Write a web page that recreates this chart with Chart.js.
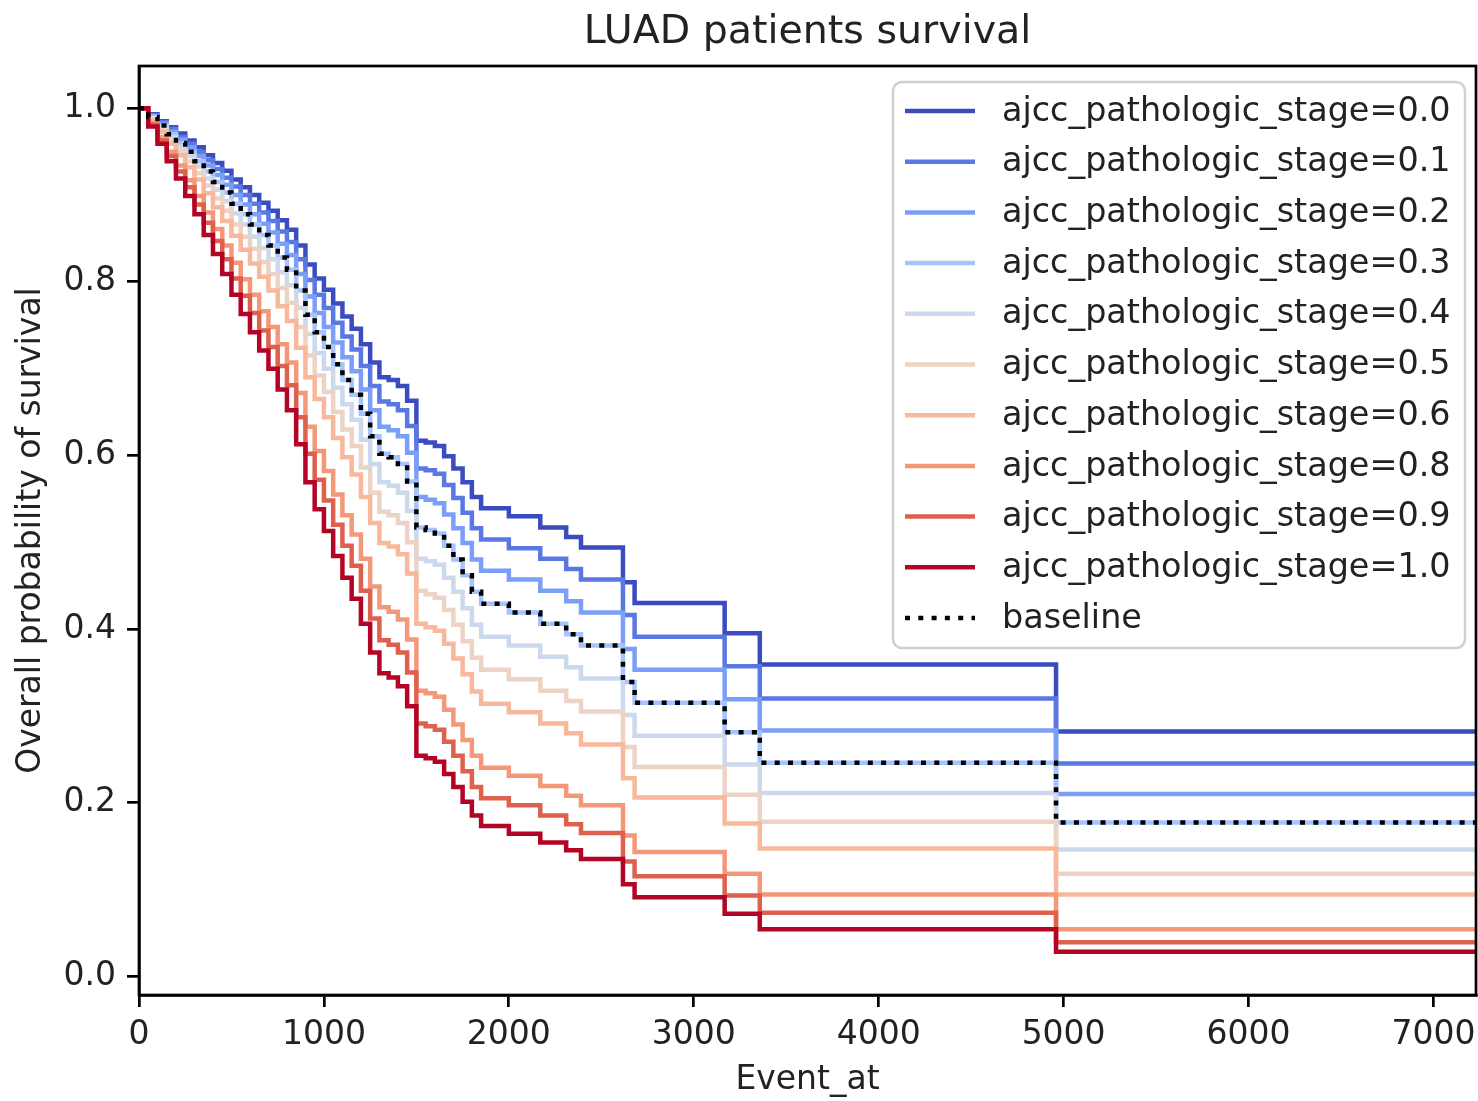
<!DOCTYPE html>
<html>
<head>
<meta charset="utf-8">
<title>LUAD patients survival</title>
<script src="https://cdn.jsdelivr.net/npm/chart.js@4.4.1/dist/chart.umd.min.js"></script>
<style>
  html, body { margin: 0; padding: 0; background: #fff; }
  canvas { display: block; }
</style>
</head>
<body>
<canvas id="survivalChart" width="1478" height="1101"></canvas>
<script>
// step times (days) shared by all curves
var times = [0, 50, 100, 150, 200, 250, 300, 350, 400, 450, 500, 550, 600, 650, 700, 750, 800, 850, 900, 950,
    1000, 1050, 1100, 1150, 1200, 1250, 1300, 1350, 1400, 1450, 1500, 1550, 1600, 1650, 1700, 1750, 1800, 1850,
    2000, 2170, 2310, 2390, 2617, 2680, 3167, 3357, 4959, 7230];

var stage00 = [1, 0.993, 0.985, 0.978, 0.971, 0.963, 0.955, 0.946, 0.937, 0.928, 0.918, 0.909, 0.900, 0.891, 0.882, 0.871, 0.860, 0.842, 0.820, 0.804,
    0.791, 0.775, 0.760, 0.746, 0.728, 0.707, 0.690, 0.687, 0.680, 0.663, 0.617, 0.615, 0.611, 0.599, 0.585, 0.569, 0.552, 0.539,
    0.530, 0.517, 0.506, 0.494, 0.454, 0.430, 0.395, 0.359, 0.282, 0.282];
var stage01 = [1, 0.992, 0.984, 0.976, 0.967, 0.959, 0.950, 0.940, 0.930, 0.920, 0.910, 0.900, 0.890, 0.880, 0.870, 0.858, 0.846, 0.826, 0.802, 0.785,
    0.770, 0.753, 0.737, 0.722, 0.703, 0.680, 0.662, 0.659, 0.652, 0.634, 0.585, 0.583, 0.579, 0.566, 0.551, 0.534, 0.516, 0.503,
    0.493, 0.481, 0.469, 0.457, 0.416, 0.391, 0.357, 0.320, 0.245, 0.245];
var stage02 = [1, 0.991, 0.982, 0.973, 0.964, 0.955, 0.945, 0.934, 0.923, 0.912, 0.900, 0.889, 0.878, 0.867, 0.857, 0.844, 0.831, 0.809, 0.783, 0.764,
    0.748, 0.730, 0.713, 0.697, 0.676, 0.652, 0.633, 0.629, 0.622, 0.603, 0.552, 0.549, 0.545, 0.532, 0.516, 0.499, 0.480, 0.467,
    0.457, 0.444, 0.432, 0.419, 0.377, 0.353, 0.319, 0.283, 0.210, 0.210];
var stage03 = [1, 0.990, 0.980, 0.970, 0.960, 0.950, 0.939, 0.927, 0.915, 0.903, 0.890, 0.878, 0.866, 0.854, 0.842, 0.828, 0.814, 0.790, 0.762, 0.742,
    0.725, 0.705, 0.687, 0.670, 0.648, 0.622, 0.602, 0.598, 0.590, 0.570, 0.517, 0.514, 0.510, 0.496, 0.480, 0.462, 0.443, 0.429,
    0.419, 0.406, 0.394, 0.381, 0.339, 0.315, 0.281, 0.246, 0.177, 0.177];
var stage04 = [1, 0.989, 0.978, 0.967, 0.956, 0.945, 0.933, 0.919, 0.906, 0.893, 0.879, 0.866, 0.852, 0.839, 0.826, 0.811, 0.796, 0.770, 0.740, 0.718,
    0.700, 0.678, 0.659, 0.641, 0.618, 0.590, 0.569, 0.565, 0.557, 0.536, 0.481, 0.478, 0.474, 0.459, 0.443, 0.424, 0.405, 0.391,
    0.381, 0.368, 0.356, 0.343, 0.301, 0.277, 0.244, 0.211, 0.146, 0.146];
var stage05 = [1, 0.988, 0.975, 0.963, 0.951, 0.939, 0.925, 0.911, 0.896, 0.882, 0.866, 0.852, 0.838, 0.823, 0.809, 0.793, 0.776, 0.748, 0.715, 0.692,
    0.673, 0.650, 0.630, 0.611, 0.586, 0.557, 0.535, 0.531, 0.522, 0.500, 0.444, 0.440, 0.436, 0.422, 0.405, 0.386, 0.367, 0.353,
    0.342, 0.329, 0.317, 0.305, 0.264, 0.241, 0.209, 0.178, 0.118, 0.118];
var stage06 = [1, 0.986, 0.973, 0.959, 0.946, 0.932, 0.918, 0.902, 0.886, 0.870, 0.853, 0.837, 0.821, 0.806, 0.790, 0.772, 0.755, 0.724, 0.690, 0.665,
    0.644, 0.620, 0.598, 0.578, 0.552, 0.522, 0.499, 0.495, 0.486, 0.464, 0.406, 0.402, 0.398, 0.383, 0.366, 0.348, 0.328, 0.314,
    0.304, 0.291, 0.280, 0.267, 0.228, 0.206, 0.176, 0.147, 0.094, 0.094];
var stage08 = [1, 0.983, 0.967, 0.950, 0.934, 0.917, 0.899, 0.880, 0.861, 0.842, 0.822, 0.803, 0.785, 0.766, 0.748, 0.728, 0.707, 0.672, 0.633, 0.605,
    0.582, 0.555, 0.531, 0.509, 0.481, 0.449, 0.425, 0.420, 0.411, 0.388, 0.329, 0.326, 0.322, 0.307, 0.290, 0.272, 0.254, 0.240,
    0.231, 0.219, 0.208, 0.197, 0.162, 0.143, 0.118, 0.094, 0.054, 0.054];
var stage09 = [1, 0.981, 0.963, 0.945, 0.927, 0.909, 0.889, 0.868, 0.847, 0.826, 0.804, 0.784, 0.764, 0.744, 0.725, 0.703, 0.681, 0.644, 0.602, 0.572,
    0.548, 0.520, 0.496, 0.473, 0.444, 0.412, 0.387, 0.382, 0.373, 0.350, 0.291, 0.288, 0.284, 0.270, 0.254, 0.236, 0.218, 0.205,
    0.197, 0.185, 0.175, 0.165, 0.132, 0.115, 0.093, 0.073, 0.039, 0.039];
var stage10 = [1, 0.979, 0.959, 0.939, 0.919, 0.899, 0.878, 0.854, 0.832, 0.809, 0.785, 0.763, 0.742, 0.721, 0.700, 0.676, 0.652, 0.613, 0.569, 0.538,
    0.513, 0.484, 0.459, 0.435, 0.406, 0.373, 0.349, 0.344, 0.334, 0.311, 0.254, 0.251, 0.247, 0.233, 0.218, 0.201, 0.185, 0.173,
    0.164, 0.154, 0.145, 0.135, 0.106, 0.091, 0.072, 0.054, 0.028, 0.028];
var baseline = [1, 0.990, 0.980, 0.970, 0.960, 0.950, 0.939, 0.927, 0.915, 0.903, 0.890, 0.878, 0.866, 0.854, 0.842, 0.828, 0.814, 0.790, 0.762, 0.742,
    0.725, 0.705, 0.687, 0.670, 0.648, 0.622, 0.602, 0.598, 0.590, 0.570, 0.517, 0.514, 0.510, 0.496, 0.480, 0.462, 0.443, 0.429,
    0.419, 0.406, 0.394, 0.381, 0.339, 0.315, 0.281, 0.246, 0.177, 0.177];

var stageLabels = ['0.0', '0.1', '0.2', '0.3', '0.4', '0.5', '0.6', '0.8', '0.9', '1.0'];
var stageSeries = [stage00, stage01, stage02, stage03, stage04, stage05, stage06, stage08, stage09, stage10];
var stageColors = ['#3b4cc0', '#5a78e4', '#7b9ff9', '#a5c3fe', '#ccd9ed', '#ecd3c5', '#f7b89c', '#f4987a', '#de614d', '#b40426'];

var xTicks = [0, 1000, 2000, 3000, 4000, 5000, 6000, 7000];
var yTicks = [0, 0.2, 0.4, 0.6, 0.8, 1.0];

var textColor = '#222222';

function points(values) {
    return times.map(function(t, i) { return { x: t, y: values[i] }; });
}

var datasets = stageSeries.map(function(values, i) {
    return {
        label: 'ajcc_pathologic_stage=' + stageLabels[i],
        data: points(values),
        borderColor: stageColors[i],
        borderWidth: 4.5,
        stepped: 'before',
        pointRadius: 0,
        fill: false,
        order: stageSeries.length - i
    };
});
datasets.push({
    label: 'baseline',
    data: points(baseline),
    borderColor: '#000000',
    borderWidth: 4.5,
    borderDash: [5, 8.3],
    borderCapStyle: 'butt',
    stepped: 'before',
    pointRadius: 0,
    fill: false,
    order: 0
});

// black box round the plot area
var framePlugin = {
    id: 'frame',
    afterDatasetsDraw: function(chart) {
        var a = chart.chartArea, ctx = chart.ctx;
        ctx.save();
        ctx.strokeStyle = '#000';
        ctx.lineWidth = 2.7;
        ctx.strokeRect(a.left, a.top, a.right - a.left, a.bottom - a.top);
        ctx.restore();
    }
};

// matplotlib style legend in the upper right corner of the plot
var legendPlugin = {
    id: 'boxLegend',
    afterDraw: function(chart) {
        var a = chart.chartArea, ctx = chart.ctx;
        var w = 572, h = 566, rowH = 50.7;
        var x0 = a.right - 11 - w, y0 = a.top + 16;
        ctx.save();
        ctx.beginPath();
        if (ctx.roundRect) {
            ctx.roundRect(x0, y0, w, h, 9);
        } else {
            ctx.rect(x0, y0, w, h);
        }
        ctx.fillStyle = 'rgba(255,255,255,0.8)';
        ctx.fill();
        ctx.strokeStyle = '#d0d0d0';
        ctx.lineWidth = 2.5;
        ctx.stroke();

        ctx.font = '33.4px "DejaVu Sans", sans-serif';
        ctx.textBaseline = 'middle';
        ctx.textAlign = 'left';
        chart.data.datasets.forEach(function(ds, i) {
            var cy = y0 + 29 + i * rowH;
            ctx.beginPath();
            ctx.setLineDash(ds.borderDash || []);
            ctx.lineCap = 'butt';
            ctx.strokeStyle = ds.borderColor;
            ctx.lineWidth = ds.borderWidth;
            ctx.moveTo(x0 + 12, cy);
            ctx.lineTo(x0 + 82, cy);
            ctx.stroke();
            ctx.setLineDash([]);
            ctx.fillStyle = textColor;
            ctx.fillText(ds.label, x0 + 109, cy + 1);
        });
        ctx.restore();
    }
};

function noPadding(scale) {
    scale.paddingLeft = 0;
    scale.paddingRight = 0;
    scale.paddingTop = 0;
    scale.paddingBottom = 0;
}

Chart.defaults.font.family = '"DejaVu Sans", sans-serif';
Chart.defaults.font.size = 33;
Chart.defaults.color = textColor;

var ctx = document.getElementById('survivalChart').getContext('2d');
var survivalChart = new Chart(ctx, {
    type: 'line',
    data: { datasets: datasets },
    options: {
        responsive: false,
        animation: false,
        devicePixelRatio: 1,
        layout: { padding: { left: 0, right: 2, top: 0, bottom: 0 } },
        plugins: {
            legend: { display: false },
            tooltip: { enabled: false },
            title: {
                display: true,
                fullSize: false,
                text: 'LUAD patients survival',
                color: textColor,
                font: { size: 39.5, weight: 'normal' },
                padding: { top: 9, bottom: 9.6 }
            }
        },
        scales: {
            x: {
                type: 'linear',
                min: 0,
                max: 7230,
                afterFit: function(scale) { scale.height = 106; noPadding(scale); },
                afterBuildTicks: function(scale) {
                    scale.ticks = xTicks.map(function(v) { return { value: v }; });
                },
                ticks: {
                    color: textColor,
                    padding: 9,
                    maxRotation: 0,
                    autoSkip: false,
                    callback: function(v) { return String(v); }
                },
                grid: {
                    display: true,
                    drawOnChartArea: false,
                    drawTicks: true,
                    tickLength: 12,
                    color: '#000',
                    lineWidth: 2.7
                },
                border: { display: true, color: '#000', width: 2.7 },
                title: {
                    display: true,
                    text: 'Event_at',
                    color: textColor,
                    padding: { top: 0, bottom: 1 }
                }
            },
            y: {
                type: 'linear',
                min: -0.0217,
                max: 1.0487,
                afterFit: function(scale) { scale.width = 139; noPadding(scale); },
                afterBuildTicks: function(scale) {
                    scale.ticks = yTicks.map(function(v) { return { value: v }; });
                },
                ticks: {
                    color: textColor,
                    padding: 11,
                    autoSkip: false,
                    callback: function(v) { return v.toFixed(1); }
                },
                grid: {
                    display: true,
                    drawOnChartArea: false,
                    drawTicks: true,
                    tickLength: 12,
                    color: '#000',
                    lineWidth: 2.7
                },
                border: { display: true, color: '#000', width: 2.7 },
                title: {
                    display: true,
                    text: 'Overall probability of survival',
                    color: textColor,
                    padding: { top: 12, bottom: 0 }
                }
            }
        }
    },
    plugins: [framePlugin, legendPlugin]
});
</script>
</body>
</html>
